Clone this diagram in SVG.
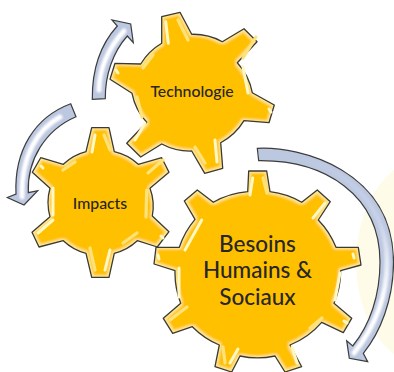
<svg xmlns="http://www.w3.org/2000/svg" width="394" height="372" viewBox="0 0 394 372">
<style>
.gear{fill:none;stroke:#3b3a36;stroke-width:1.3;stroke-linejoin:round}
.glow{fill:#ffc000;filter:url(#inner)}
.hl{fill:none;stroke:#fff8c4;stroke-width:3;stroke-linecap:round;filter:url(#soft)}
.hf{fill:none;stroke:#ffe27a;stroke-width:3.2;stroke-linecap:round;filter:url(#soft)}
.arrow{fill:#bcc7e0;stroke:#3d3d3d;stroke-width:1.2;stroke-linejoin:miter}
.stripe{fill:none;stroke:#ffffff;stroke-width:5;stroke-linecap:round;filter:url(#soft2)}
text{font-family:Lato,"Noto Sans",sans-serif;fill:#262626;text-anchor:middle;font-weight:500}
.small{font-size:15.8px}
.big{font-size:22.5px}
</style>
<defs>
<filter id="inner" x="-5%" y="-5%" width="110%" height="110%">
<feMorphology in="SourceAlpha" operator="erode" radius="2" result="e"/>
<feGaussianBlur in="e" stdDeviation="1.2" result="b"/>
<feFlood flood-color="#ffe88e"/>
<feComposite operator="out" in2="b" result="edge"/>
<feComposite in="edge" in2="SourceAlpha" operator="in" result="clip"/>
<feMerge><feMergeNode in="SourceGraphic"/><feMergeNode in="clip"/></feMerge>
</filter>
<filter id="soft" x="-50%" y="-50%" width="200%" height="200%"><feGaussianBlur stdDeviation="0.55"/></filter>
<filter id="soft2" x="-20%" y="-20%" width="140%" height="140%"><feGaussianBlur stdDeviation="0.9"/></filter>
<linearGradient id="fade" gradientUnits="userSpaceOnUse" x1="300" y1="150" x2="385" y2="300">
<stop offset="0" stop-color="#bcc7e0"/><stop offset="0.6" stop-color="#c8d2e8"/><stop offset="1" stop-color="#ffffff"/>
</linearGradient>
<path id="g3" d="M248.7 171L266.7 171L270 191.7A83 83 0 0 1 301.7 202.3L317.3 190L330.3 201.7L318.3 220A83 83 0 0 1 336 247.3L358.3 247.3L361 265L340.7 270.7A83 83 0 0 1 334 303.3L351.7 318.3L343.3 332.7L321.7 322.3A83 83 0 0 1 290 345L301.7 366.7L285 372L275 356A83 83 0 0 1 240 356L231.7 372L215 366.7L219.3 345A83 83 0 0 1 192.3 326.7L172.7 333.3L163.3 318.3L180.7 303.3A83 83 0 0 1 175 270.7L154 264L156 247.3L179.3 247.3A83 83 0 0 1 195 219.3L184.3 201L197.3 190L213.3 202.3A83 83 0 0 1 247.7 191.7Z"/>
<path id="g1" d="M161.7 16.7L180 12.3L191.7 34.3A60 60 0 0 1 222.3 41.7L244 28.7L257 41.7L237.3 62.7A60 60 0 0 1 252.3 92.7L274.3 105L269 122.7L244 120.7A60 60 0 0 1 220.7 142.7L222.7 168.3L204.7 173.3L191.7 151A60 60 0 0 1 161.7 144L140.7 157L126.7 143.3L146.7 122.3A60 60 0 0 1 132 93.3L110 79.3L115 63.3L140.7 64A60 60 0 0 1 161.7 43.3Z"/>
<path id="g2" d="M91.7 127.7L109 127.7L114.3 151.7A52 52 0 0 1 138.3 164.3L161.7 157.7L169 172.3L150 188.3A52 52 0 0 1 152.3 216L169 231.7L157.3 247L137.3 240.7A52 52 0 0 1 114.3 253.3L109 277.3L91.7 277.3L86 253.3A52 52 0 0 1 63.3 240.7L39 247L32 232.3L50 216.7A52 52 0 0 1 50 188.3L32.3 172.3L40.7 157.7L63.3 164.3A52 52 0 0 1 86 151.7Z"/>
</defs>
<ellipse cx="431" cy="262" rx="75" ry="106" fill="#fffbe9"/>
<g id="node-besoins">
<use href="#g3" class="glow"/><use href="#g3" class="gear"/>
<path class="hl" d="M252.7 178L250 195M325 203L313 218M201.7 220L185 250M340 273L335 300M238 349L230 363M179 268L179 297M292 347L297 363M353 254L354 258M158 255L159 259M344 321L347 323"/>
<path class="hf" d="M263 178L267 193M187 307L170 320M322 318L310 328M223 347L225 363"/>
<text class="big" x="257.5" y="251.5">Besoins</text>
<text class="big" x="257.5" y="278">Humains &amp;</text>
<text class="big" x="257.5" y="304.5">Sociaux</text>
</g>
<g id="node-technologie">
<use href="#g1" class="glow"/><use href="#g1" class="gear"/>
<path class="hl" d="M165.7 21.7L168.3 43.3M243 67L248 93M215 140L217 162M145 123L135 140M269 109L271 112M116 70L118 73"/>
<path class="hf" d="M178 20L188 40M256 37L243 58M195 147L205 163M153 55L143 68M137 97L142 117"/>
<text class="small" x="192" y="97">Technologie</text>
</g>
<g id="node-impacts">
<use href="#g2" class="glow"/><use href="#g2" class="gear"/>
<path class="hl" d="M95 135L92 152M53 188L53 215M53 220L38 233M110 250L105 270M161 236L163 238M41 166L43 168"/>
<path class="hf" d="M104 135L110 150M63 170L75 162M148 173L163 160M146.7 190L146 217M137 233L123 243M90 248L95 270"/>
<text class="small" x="100" y="208.5">Impacts</text>
</g>
<g id="connectors">
<path class="arrow" d="M92.3 99.3C92 70 100 45 117.3 26L112 20L130.7 24L133.3 42.7L127.3 36C113 52 105 75 105.3 98.7Z"/>
<path class="stripe" d="M99 90C99 70 108 48 124 31"/>
<path class="arrow" d="M70.7 103.7C35 117 14 150 16 194L7.3 197.5L24 205L37.7 190.7L28.3 192.7C27 160 45 130 76 116.7Z"/>
<path class="stripe" d="M60 117C38 129 21 155 22 197"/>
<path class="arrow" d="M257.3 148.3C300 146 393 170 393.5 262C393.5 300 380 333 363.3 353.3L367.7 361.7L349.3 358.3L346.7 340.7L352.7 346C370 325 380 295 380 262C380 195 325 160 258.7 160.7Z"/>
<path class="stripe" style="stroke:url(#fade)" d="M262 154C330 154 387 195 387 262C387 298 374 328 354 353"/>
</g>
</svg>
